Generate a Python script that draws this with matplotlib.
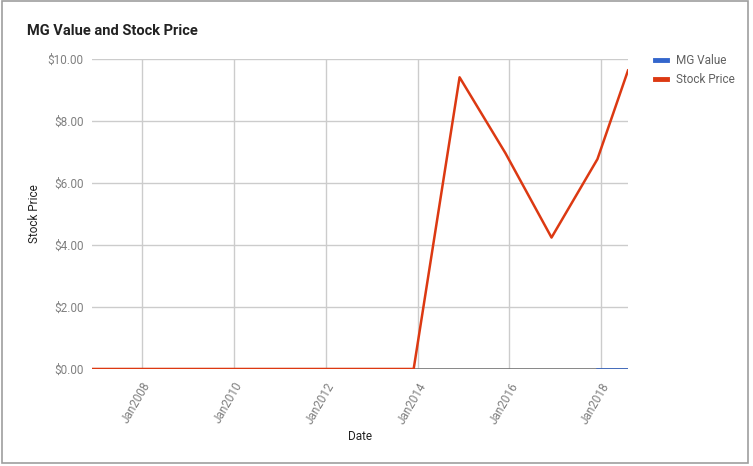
import matplotlib
matplotlib.use('Agg')
import matplotlib.pyplot as plt
import matplotlib.patches as patches
from matplotlib.ticker import FuncFormatter
from datetime import datetime

plt.rcParams['font.family'] = ['Roboto', 'DejaVu Sans']

# Data
price_dates = [datetime(y, 12, 1) for y in range(2006, 2018)] + [datetime(2018, 8, 1)]
stock_price = [0, 0, 0, 0, 0, 0, 0, 0, 9.41, 6.96, 4.24, 6.77, 9.63]
mg_dates = [datetime(2017, 12, 1), datetime(2018, 8, 1)]
mg_value = [0, 0]
tick_years = [2008, 2010, 2012, 2014, 2016, 2018]

fig = plt.figure(figsize=(7.53, 4.66), dpi=100)
ax = fig.add_axes([0.1222, 0.2082, 0.7118, 0.6652])

# Outer frame
fig.patches.append(patches.Rectangle((0.003, 0.007), 0.991, 0.99, transform=fig.transFigure,
                                     fill=False, ec='#9e9e9e', lw=1.2))

ax.plot(mg_dates, mg_value, color='#3366cc', lw=1.8, label='MG Value', zorder=3)
ax.plot(price_dates, stock_price, color='#dc3912', lw=1.8, label='Stock Price', zorder=4)
ax.axhline(0, color='#757575', lw=1.2, zorder=2)

ax.set_xlim(price_dates[0], price_dates[-1])
ax.set_ylim(0, 10)
ax.set_yticks([0, 2, 4, 6, 8, 10])
ax.yaxis.set_major_formatter(FuncFormatter(lambda v, p: '${:.2f}'.format(v)))
ax.set_xticks([datetime(y, 1, 1) for y in tick_years])
ax.set_xticklabels(['Jan%d' % y for y in tick_years], rotation=60, ha='right',
                   rotation_mode='anchor')

ax.grid(True, color='#cccccc', lw=1)
ax.set_axisbelow(True)
for s in ax.spines.values():
    s.set_visible(False)
ax.tick_params(length=0, labelsize=8.5, colors='#808080', pad=6)
ax.tick_params(axis='x', pad=8)

ax.set_xlabel('Date', fontsize=8.5, color='#222222')
ax.set_ylabel('Stock Price', fontsize=8.5, color='#222222')
ax.xaxis.set_label_coords(0.5, -0.197)
ax.yaxis.set_label_coords(-0.095, 0.5)

fig.text(0.036, 0.933, 'MG Value and Stock Price', fontsize=10.5, fontweight='bold',
         color='#222222', va='center')

leg = ax.legend(loc='upper left', bbox_to_anchor=(1.031, 1.05), frameon=False,
                fontsize=8.5, handlelength=1.0, handleheight=0.5, labelcolor='#616161')
for h in leg.get_lines():
    h.set_linewidth(3.5)

fig.savefig('out.png', dpi=100)
